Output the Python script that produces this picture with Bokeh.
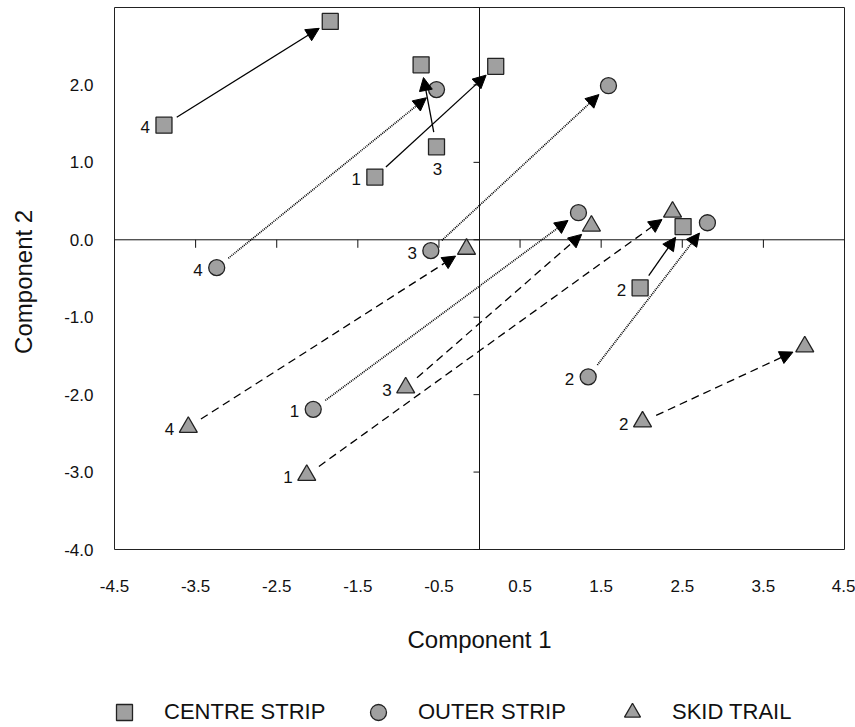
import numpy as np
from bokeh.plotting import figure
from bokeh.layouts import column
from bokeh.models import (ColumnDataSource, Arrow, NormalHead, LinearAxis, FixedTicker,
                          PrintfTickFormatter, Range1d, Legend, LegendItem, Span)
from bokeh.core.properties import value
from bokeh.embed import file_html
from bokeh.resources import INLINE

# ---------------- data ----------------
group_names = ["CENTRE STRIP", "OUTER STRIP", "SKID TRAIL"]
site_labels = ["4", "1", "3", "2"]

centre_x0 = [-3.89, -1.29, -0.53, 1.98]
centre_y0 = [1.48, 0.81, 1.20, -0.62]
centre_x1 = [-1.84, 0.20, -0.72, 2.51]
centre_y1 = [2.82, 2.24, 2.26, 0.17]
centre_label_pos = ["left", "left", "below", "left"]

outer_x0 = [-3.24, -2.05, -0.60, 1.34]
outer_y0 = [-0.36, -2.19, -0.14, -1.77]
outer_x1 = [-0.53, 1.22, 1.59, 2.81]
outer_y1 = [1.94, 0.35, 1.99, 0.22]
outer_label_pos = ["left", "left", "left", "left"]

skid_x0 = [-3.59, -2.13, -0.91, 2.01]
skid_y0 = [-2.42, -3.04, -1.91, -2.35]
skid_x1 = [-0.16, 2.38, 1.38, 4.01]
skid_y1 = [-0.12, 0.36, 0.18, -1.38]
skid_label_pos = ["left", "left", "left", "left"]

x_ticks = [-4.5, -3.5, -2.5, -1.5, -0.5, 0.5, 1.5, 2.5, 3.5, 4.5]
y_tick_labels = [-4.0, -3.0, -2.0, -1.0, 0.0, 1.0, 2.0]
y_ticks_zero = [-4.0, -3.0, -2.0, -1.0, 0.0, 1.0, 2.0, 3.0]
X_MIN, X_MAX = -4.5, 4.5
Y_MIN, Y_MAX = -4.0, 3.0

# ---------------- main figure ----------------
FONT = "Liberation Sans"
W, H = 855, 688
LEG_H = 39
BL, BR, BT = 114, 11, 7
FH = 542
BB = H - BT - FH
FW = W - BL - BR
kx = FW / (X_MAX - X_MIN)
ky = FH / (Y_MAX - Y_MIN)

p = figure(width=W, height=H, x_range=Range1d(X_MIN, X_MAX), y_range=Range1d(Y_MIN, Y_MAX),
           x_axis_location=None, y_axis_location=None, toolbar_location=None,
           output_backend="svg", tools="",
           min_border_left=BL, min_border_right=BR, min_border_top=BT, min_border_bottom=BB)
p.grid.visible = False
p.outline_line_color = "#222222"
p.outline_line_width = 1
p.background_fill_color = "white"
p.border_fill_color = "white"

# zero lines with their ticks
p.add_layout(Span(location=0, dimension="width", line_color="#111111", line_width=1, level="underlay"))
p.add_layout(Span(location=0, dimension="height", line_color="#111111", line_width=1, level="underlay"))
xt = np.asarray(x_ticks)
p.segment(x0=xt, y0=np.zeros_like(xt), x1=xt, y1=np.zeros_like(xt) - 8 / ky,
          line_color="#111111", line_width=1, level="underlay")
yt = np.asarray(y_ticks_zero)
p.segment(x0=np.zeros_like(yt), y0=yt, x1=np.zeros_like(yt) - 6 / kx, y1=yt,
          line_color="#111111", line_width=1, level="underlay")

# label axes
lx = LinearAxis(ticker=FixedTicker(ticks=x_ticks), formatter=PrintfTickFormatter(format="%.1f"),
                axis_line_color=None, major_tick_line_color=None, minor_tick_line_color=None,
                major_tick_out=0, major_tick_in=0, major_label_standoff=30,
                major_label_text_font=FONT, major_label_text_font_size="17px",
                major_label_text_color="#111111",
                axis_label="Component 1", axis_label_standoff=31,
                axis_label_text_font=FONT, axis_label_text_font_size="24px",
                axis_label_text_font_style="normal", axis_label_text_color="#111111")
p.add_layout(lx, "below")
ly = LinearAxis(ticker=FixedTicker(ticks=y_tick_labels), formatter=PrintfTickFormatter(format="%.1f"),
                axis_line_color=None, major_tick_line_color=None, minor_tick_line_color=None,
                major_tick_out=0, major_tick_in=0, major_label_standoff=21,
                major_label_text_font=FONT, major_label_text_font_size="17px",
                major_label_text_color="#111111",
                axis_label="Component  2", axis_label_standoff=24,
                axis_label_text_font=FONT, axis_label_text_font_size="24px",
                axis_label_text_font_style="normal", axis_label_text_color="#111111")
p.add_layout(ly, "left")

FILL = "#a0a0a0"
EDGE = "#222222"

def add_group(x0, y0, x1, y1, marker, size, dash, lw, label_pos):
    x0, y0, x1, y1 = map(np.asarray, (x0, y0, x1, y1))
    dxp = (x1 - x0) * kx
    dyp = (y1 - y0) * ky
    L = np.hypot(dxp, dyp)
    ux, uy = dxp / L, dyp / L
    gap0, gap1 = 15.0, 13.0
    src = ColumnDataSource(dict(
        xs=x0 + ux * gap0 / kx, ys=y0 + uy * gap0 / ky,
        xe=x1 - ux * gap1 / kx, ye=y1 - uy * gap1 / ky))
    arrow = Arrow(source=src, x_start="xs", y_start="ys", x_end="xe", y_end="ye",
                  line_color="black", line_width=lw, line_dash=dash,
                  end=NormalHead(size=13, fill_color="black", line_color="black", line_width=1))
    p.add_layout(arrow)
    xs_all = np.concatenate([x0, x1])
    ys_all = np.concatenate([y0, y1])
    p.scatter(xs_all, ys_all, marker=marker, size=size, fill_color=FILL,
              line_color=EDGE, line_width=1.3)
    left = [i for i, s in enumerate(label_pos) if s == "left"]
    below = [i for i, s in enumerate(label_pos) if s == "below"]
    if left:
        p.text([x0[i] for i in left], [y0[i] for i in left], text=[site_labels[i] for i in left],
               x_offset=-14, y_offset=2, text_align="right", text_baseline="middle",
               text_font=value(FONT), text_font_size="17px", text_color="#111111")
    if below:
        p.text([x0[i] for i in below], [y0[i] for i in below], text=[site_labels[i] for i in below],
               x_offset=1, y_offset=22, text_align="center", text_baseline="middle",
               text_font=value(FONT), text_font_size="17px", text_color="#111111")

add_group(centre_x0, centre_y0, centre_x1, centre_y1, "square", 16, "solid", 1.3, centre_label_pos)
add_group(outer_x0, outer_y0, outer_x1, outer_y1, "circle", 16, "1 1", 1.7, outer_label_pos)
add_group(skid_x0, skid_y0, skid_x1, skid_y1, "triangle", 18, "8 5", 1.3, skid_label_pos)

# ---------------- legend strip ----------------
lf = figure(width=W, height=LEG_H, x_range=Range1d(0, 1), y_range=Range1d(0, 1),
            x_axis_location=None, y_axis_location=None, toolbar_location=None,
            output_backend="svg", tools="", min_border=0)
lf.grid.visible = False
lf.outline_line_color = None
lf.background_fill_color = "white"
lf.border_fill_color = "white"
leg_markers = ["square", "circle", "triangle"]
leg_renderers = [lf.scatter(x=[np.nan], y=[np.nan], marker=m, size=16, fill_color=FILL,
                            line_color=EDGE, line_width=1.3) for m in leg_markers]
legend = Legend(items=[LegendItem(label=n, renderers=[r]) for n, r in zip(group_names, leg_renderers)],
                orientation="horizontal", location=(-10, -5),
                glyph_width=40, glyph_height=40, label_standoff=20, spacing=0,
                label_width=194,
                padding=0, margin=0, border_line_color=None, background_fill_alpha=0,
                label_text_font=FONT, label_text_font_size="22px", label_text_color="#111111")
lf.add_layout(legend, "center")

layout = column(p, lf, spacing=0)
open("out.html", "w").write(file_html(layout, INLINE))
